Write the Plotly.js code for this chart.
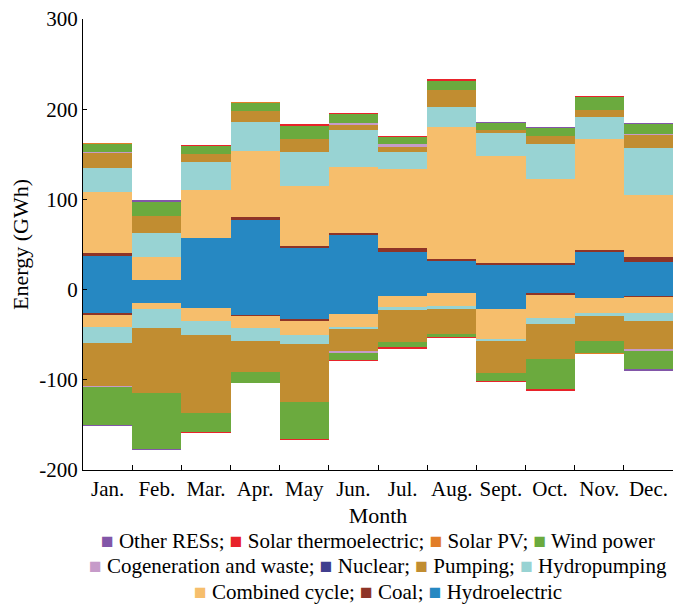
<!DOCTYPE html>
<html>
<head>
<meta charset="utf-8">
<script src="https://cdn.plot.ly/plotly-3.0.1.min.js"></script>
<style>html,body{margin:0;padding:0;background:#fff;}#chart{width:673px;height:605px;}</style>
</head>
<body>
<div id="chart"></div>
<script>
const months = ["Jan.", "Feb.", "Mar.", "Apr.", "May", "Jun.", "Jul.", "Aug.", "Sept.", "Oct.", "Nov.", "Dec."];
const yTickVals = [-200, -100, 0, 100, 200, 300];
const yTickText = ["-200", "-100", "0", "100", "200", "300"];

// Stacking order (bottom to top): Hydroelectric, Coal, Combined cycle, Hydropumping, Pumping, Nuclear,
// Cogeneration and waste, Wind power, Solar PV, Solar thermoelectric, Other RESs
const hydroPos    = [37.1, 10.5, 56.8, 77.0, 45.7, 60.0, 41.6, 31.6, 27.2, 27.2, 41.9, 30.8];
const coalPos     = [3.0, 0, 0, 3.0, 2.9, 3.0, 4.1, 1.9, 1.8, 2.5, 1.5, 4.9];
const ccPos       = [68.3, 25.2, 53.5, 73.9, 66.5, 72.5, 87.6, 146.3, 119.3, 92.5, 123.5, 69.1];
const hydropumpPos= [26.0, 27.3, 30.7, 31.5, 37.7, 41.3, 19.5, 22.9, 25.5, 39.1, 24.0, 52.4];
const pumpingPos  = [17.3, 18.5, 8.9, 12.8, 14.1, 5.9, 5.5, 18.5, 3.0, 8.9, 8.1, 14.1];
const nuclearPos  = [0, 0, 0, 0, 0, 0, 0, 0, 0, 0, 0, 0];
const cogenPos    = [0.8, 0, 0, 0, 0, 1.5, 2.7, 0, 0, 0, 0, 1.1];
const windPos     = [9.0, 15.8, 9.0, 8.8, 14.7, 10.0, 7.7, 10.3, 7.8, 8.5, 14.1, 11.1];
const solarPvPos  = [1.0, 0, 0, 1.2, 0, 0, 0, 0, 0, 0, 0, 0];
const solarThPos  = [0, 0, 1.4, 0, 1.6, 1.8, 1.5, 1.5, 0, 0, 1.5, 0];
const otherPos    = [0, 2.5, 0, 0, 0, 0, 0, 0, 1.5, 1.5, 0, 1.5];

const hydroNeg    = [-26.4, -15.3, -20.2, -28.0, -33.0, -27.5, -7.0, -4.2, -21.6, -4.2, -9.8, -7.2];
const coalNeg     = [-1.6, 0, 0, -1.2, -1.4, 0, 0, 0, 0, -1.4, 0, -1.5];
const ccNeg       = [-13.2, -6.7, -14.4, -13.1, -16.0, -14.4, -12.7, -14.1, -33.6, -26.3, -16.6, -17.0];
const hydropumpNeg= [-18.4, -21.0, -15.8, -14.4, -10.0, -2.2, -3.0, -3.7, -1.9, -6.3, -2.6, -8.9];
const pumpingNeg  = [-47.4, -71.4, -86.9, -34.4, -64.0, -24.1, -35.8, -27.3, -35.8, -39.2, -28.1, -31.7];
const nuclearNeg  = [0, 0, 0, 0, 0, 0, 0, 0, 0, 0, 0, 0];
const cogenNeg    = [-1.0, 0, 0, 0, 0, -1.8, 0, 0, 0, 0, 0, -1.7];
const windNeg     = [-42.2, -62.8, -20.3, -12.2, -41.3, -8.2, -5.6, -3.0, -8.2, -33.2, -12.9, -20.1];
const solarPvNeg  = [0, 0, 0, 0, 0, 0, 0, 0, 0, 0, -1.0, 0];
const solarThNeg  = [0, 0, -1.0, 0, -1.3, -1.3, -1.4, -1.2, -1.4, -1.7, 0, 0];
const otherNeg    = [-1.3, -1.0, 0, 0, 0, 0, 0, 0, 0, 0, 0, -1.7];

const sourceNames  = ["Hydroelectric", "Coal", "Combined cycle", "Hydropumping", "Pumping", "Nuclear",
                      "Cogeneration and waste", "Wind power", "Solar PV", "Solar thermoelectric", "Other RESs"];
const sourceColors = ["#2688C2", "#8E3427", "#F6BE6C", "#98D3D3", "#C18D31", "#413F8E",
                      "#C69BC9", "#6BAA3E", "#E27E27", "#E8232A", "#8256A8"];
const posSeries = [hydroPos, coalPos, ccPos, hydropumpPos, pumpingPos, nuclearPos, cogenPos, windPos, solarPvPos, solarThPos, otherPos];
const negSeries = [hydroNeg, coalNeg, ccNeg, hydropumpNeg, pumpingNeg, nuclearNeg, cogenNeg, windNeg, solarPvNeg, solarThNeg, otherNeg];

// legend rows as shown in the reference (indices into sourceNames)
const legendRows = [[10, 9, 8, 7], [6, 5, 4, 3], [2, 1, 0]];

const traces = [];
sourceNames.forEach((n, i) => {
  traces.push({type: "bar", x: months, y: posSeries[i], name: n,
    marker: {color: sourceColors[i], line: {width: 0}}, showlegend: false});
});
sourceNames.forEach((n, i) => {
  traces.push({type: "bar", x: months, y: negSeries[i], name: n,
    marker: {color: sourceColors[i], line: {width: 0}}, showlegend: false});
});

const FONT = "Liberation Serif";
const rowY = [-0.157, -0.213, -0.270];
const annotations = legendRows.map((row, r) => ({
  xref: "paper", yref: "paper", x: 0.5, y: rowY[r], xanchor: "center", yanchor: "middle",
  showarrow: false, font: {family: FONT, size: 21, color: "#000"},
  text: row.map(i => '<span style="color:' + sourceColors[i] + '">■</span> ' + sourceNames[i]).join("; ")
}));

const layout = {
  width: 673, height: 605,
  margin: {l: 83, r: 0, t: 19, b: 135},
  paper_bgcolor: "#fff", plot_bgcolor: "#fff",
  font: {family: FONT, size: 21, color: "#000"},
  barmode: "relative", bargap: 0,
  showlegend: false,
  xaxis: {type: "category", tickson: "boundaries", ticks: "inside", ticklen: 5, tickcolor: "#000",
    tickangle: 0, showline: true, linecolor: "#000", linewidth: 1, showgrid: false, zeroline: false,
    tickfont: {family: FONT, size: 21, color: "#000"},
    title: {text: "Month", font: {family: FONT, size: 22, color: "#000"}, standoff: 7}},
  yaxis: {range: [-200, 300], tickmode: "array", tickvals: yTickVals, ticktext: yTickText,
    ticks: "inside", ticklen: 4, tickcolor: "#000",
    showline: true, linecolor: "#000", linewidth: 1, showgrid: false, zeroline: false,
    tickfont: {family: FONT, size: 21, color: "#000"},
    title: {text: "Energy (GWh)", font: {family: FONT, size: 22, color: "#000"}, standoff: 4}},
  annotations: annotations
};

Plotly.newPlot("chart", traces, layout, {displayModeBar: false, staticPlot: true});
</script>
</body>
</html>
